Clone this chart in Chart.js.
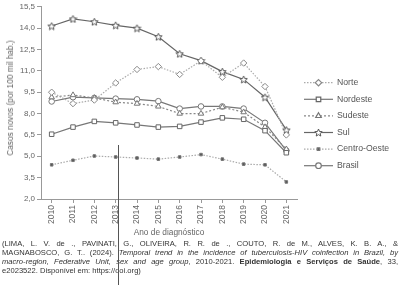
<!DOCTYPE html>
<html>
<head>
<meta charset="utf-8">
<script src="https://cdn.jsdelivr.net/npm/chart.js@4"></script>
<style>
  body { margin: 0; background: #fff; }
  #wrap { position: relative; width: 400px; height: 285px; overflow: hidden; font-family: 'Liberation Sans', Arial, sans-serif; }
  #chart { position: absolute; left: 0; top: 0; }
  .ytitle { position: absolute; left: 10px; top: 98px; transform: translate(-50%, -50%) rotate(-90deg); font-size: 8.3px; color: #666; white-space: nowrap; }
  .xtitle { position: absolute; left: 169px; top: 227px; transform: translateX(-50%); font-size: 8.3px; color: #666; white-space: nowrap; }
  .cite { position: absolute; left: 2px; top: 238.5px; width: 396px; font-size: 7.6px; line-height: 9.1px; color: #333; }
  .cite span { display: block; text-align: justify; text-align-last: justify; white-space: nowrap; }
  .cite span.last { text-align-last: left; }
  .cursor { position: absolute; left: 118px; top: 145px; width: 1px; height: 140px; background: #555; }
</style>
</head>
<body>
<div id="wrap">
  <canvas id="chart" width="400" height="285"></canvas>
  <div class="ytitle">Casos novos (por 100 mil hab.)</div>
  <div class="xtitle">Ano de diagnóstico</div>
  <div class="cite">
    <span>(LIMA, L. V. de ., PAVINATI, G., OLIVEIRA, R. R. de ., COUTO, R. de M., ALVES, K. B. A., &amp;</span>
    <span>MAGNABOSCO, G. T.. (2024). <i>Temporal trend in the incidence of tuberculosis-HIV coinfection in Brazil, by</i></span>
    <span><i>macro-region, Federative Unit, sex and age group</i>, 2010-2021. <b>Epidemiologia e Serviços de Saúde</b>, 33,</span>
    <span class="last">e2023522. Disponível em: https://doi.org)</span>
  </div>
  <div class="cursor"></div>
</div>
<script>
// values
const years = ['2010', '2011', '2012', '2013', '2014', '2015', '2016', '2017', '2018', '2019', '2020', '2021'];
const norte = [9.5, 8.7, 8.95, 10.15, 11.1, 11.3, 10.75, 11.7, 10.55, 11.55, 9.9, 6.5];
const nordeste = [6.55, 7.05, 7.45, 7.35, 7.2, 7.05, 7.1, 7.4, 7.7, 7.6, 6.8, 5.25];
const sudeste = [9.15, 9.3, 9.1, 8.8, 8.7, 8.5, 8.0, 8.0, 8.45, 8.1, 7.05, 5.5];
const sul = [14.15, 14.65, 14.45, 14.2, 14.0, 13.4, 12.2, 11.72, 10.95, 10.4, 9.15, 6.85];
const centroOeste = [4.4, 4.72, 5.02, 4.95, 4.88, 4.8, 4.95, 5.12, 4.8, 4.45, 4.4, 3.2];
const brasil = [8.85, 9.15, 9.1, 9.05, 9.0, 8.87, 8.35, 8.5, 8.5, 8.35, 7.35, 5.4];
const yTicks = [2.0, 3.5, 5.0, 6.5, 8.0, 9.5, 11.0, 12.5, 14.0, 15.5];

// open 5-point star marker
function makeStar(size, color) {
    const c = document.createElement('canvas');
    c.width = size; c.height = size;
    const g = c.getContext('2d');
    const cx = size / 2, cy = size / 2 + 0.4, ro = size / 2 - 0.6, ri = ro * 0.45;
    g.beginPath();
    for (let i = 0; i < 10; i++) {
        const r = i % 2 ? ri : ro;
        const a = -Math.PI / 2 + i * Math.PI / 5;
        g.lineTo(cx + r * Math.cos(a), cy + r * Math.sin(a));
    }
    g.closePath();
    g.fillStyle = '#fff';
    g.fill();
    g.strokeStyle = color;
    g.lineWidth = 1;
    g.stroke();
    return c;
}
const starImg = makeStar(9, '#555');

function series(label, data, opts) {
    return Object.assign({
        label: label,
        data: data,
        borderWidth: 1.2,
        pointRadius: 3,
        pointBorderWidth: 1,
        pointBackgroundColor: '#fff',
        tension: 0
    }, opts);
}

const datasets = [
    series('Norte', norte, { borderColor: '#aaa', borderDash: [1.5, 1.5], pointStyle: 'rectRot', pointBorderColor: '#888', pointRadius: 3.2 }),
    series('Nordeste', nordeste, { borderColor: '#777', pointStyle: 'rect', pointBorderColor: '#666', pointRadius: 3.2 }),
    series('Sudeste', sudeste, { borderColor: '#888', borderDash: [2, 2], pointStyle: 'triangle', pointBorderColor: '#777', pointRadius: 3.2 }),
    series('Sul', sul, { borderColor: '#666', pointStyle: starImg }),
    series('Centro-Oeste', centroOeste, { borderColor: '#aaa', borderDash: [1.5, 1.5], pointStyle: 'rect', pointBackgroundColor: '#555', pointBorderColor: '#777', pointRadius: 1.8 }),
    series('Brasil', brasil, { borderColor: '#777', pointStyle: 'circle', pointBorderColor: '#777', pointRadius: 2.8 })
];

const legendPlugin = {
    id: 'sideLegend',
    afterDraw(chart) {
        const ctx = chart.ctx;
        ctx.save();
        chart.data.datasets.forEach((ds, i) => {
            const y = 82.7 + i * 16.6;
            ctx.beginPath();
            ctx.setLineDash(ds.borderDash || []);
            ctx.strokeStyle = ds.borderColor;
            ctx.lineWidth = ds.borderWidth;
            ctx.moveTo(304, y);
            ctx.lineTo(333, y);
            ctx.stroke();
            ctx.setLineDash([]);
            ctx.fillStyle = ds.pointBackgroundColor;
            ctx.strokeStyle = ds.pointBorderColor || ds.borderColor;
            Chart.helpers.drawPoint(ctx, {
                pointStyle: ds.pointStyle,
                radius: ds.pointRadius,
                borderWidth: 1,
                rotation: 0
            }, 318.5, y);
            ctx.fillStyle = '#555';
            ctx.font = "8.7px 'Liberation Sans', Arial, sans-serif";
            ctx.textBaseline = 'middle';
            ctx.fillText(ds.label, 337, y);
        });
        ctx.restore();
    }
};

new Chart(document.getElementById('chart'), {
    type: 'line',
    data: { labels: years, datasets: datasets },
    plugins: [legendPlugin],
    options: {
        responsive: false,
        animation: false,
        layout: { padding: { top: 2, right: 103, left: 0, bottom: 0 } },
        plugins: { legend: { display: false }, tooltip: { enabled: false } },
        scales: {
            x: {
                offset: true,
                afterFit: s => { s.height = 86; },
                border: { display: true, color: '#999' },
                grid: { drawOnChartArea: false, drawTicks: true, tickLength: 4, color: '#999', offset: false },
                ticks: {
                    minRotation: 90,
                    maxRotation: 90,
                    padding: 2,
                    color: '#666',
                    font: { size: 8.5, family: "'Liberation Sans', Arial, sans-serif" }
                }
            },
            y: {
                min: yTicks[0],
                max: yTicks[yTicks.length - 1],
                afterFit: s => { s.width = 41; },
                afterBuildTicks: s => { s.ticks = yTicks.map(v => ({ value: v })); },
                border: { display: true, color: '#999' },
                grid: { drawOnChartArea: false, drawTicks: true, tickLength: 4, color: '#999' },
                ticks: {
                    padding: 2,
                    color: '#666',
                    font: { size: 8, family: "'Liberation Sans', Arial, sans-serif" },
                    callback: v => Number(v).toFixed(1).replace('.', ',')
                }
            }
        }
    }
});
</script>
</body>
</html>
